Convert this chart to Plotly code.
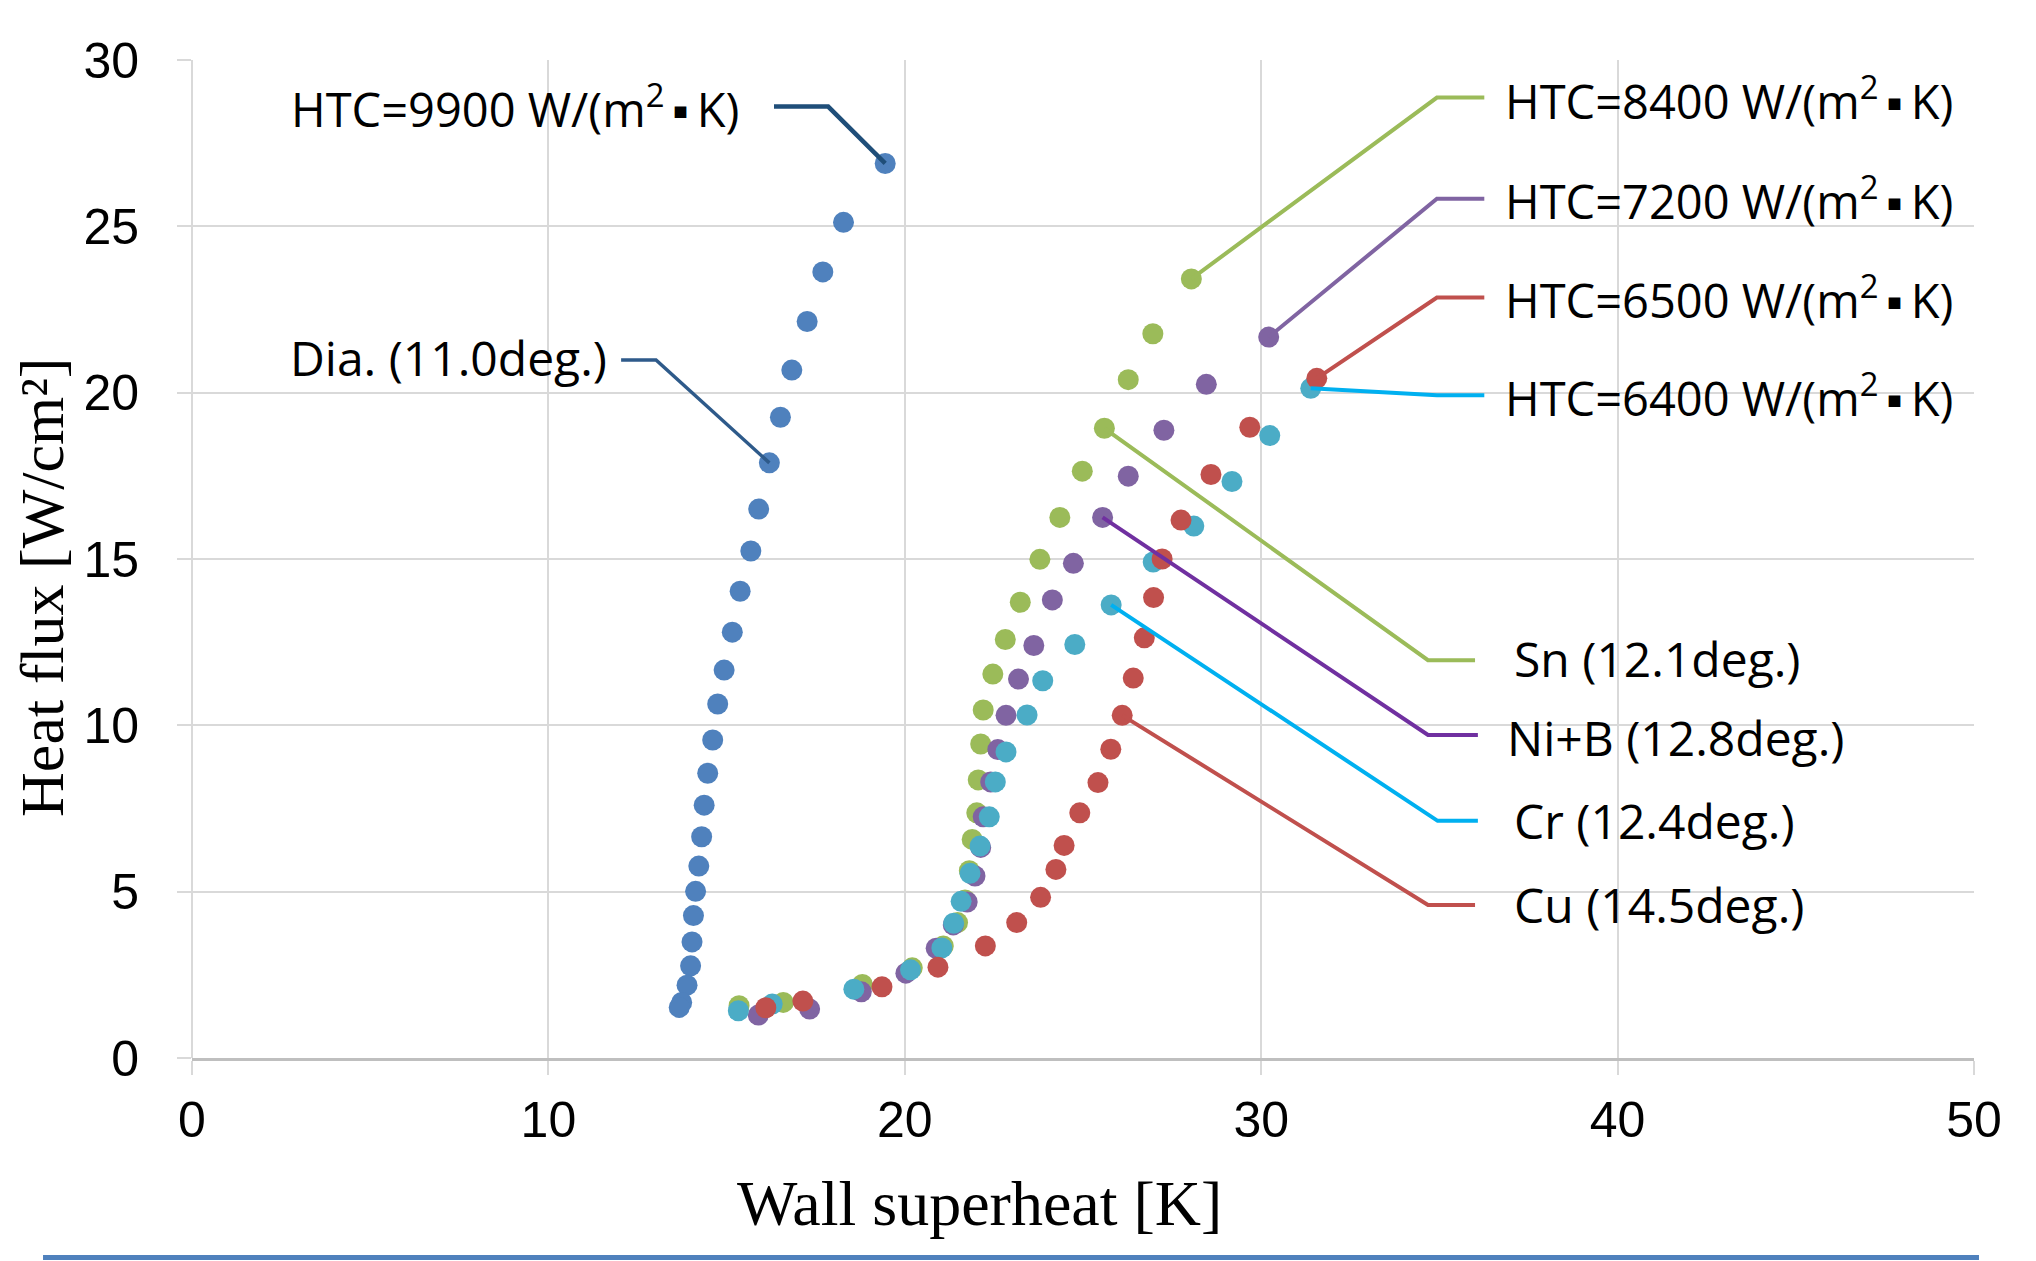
import plotly.graph_objects as go

# ---------------- data ----------------
dia_x = [19.45, 18.28, 17.70, 17.26, 16.83, 16.51, 16.20, 15.90, 15.68, 15.38, 15.16, 14.93, 14.75,
         14.61, 14.47, 14.37, 14.30, 14.22, 14.13, 14.07, 14.03, 13.99, 13.89, 13.74, 13.67]
dia_y = [26.89, 25.12, 23.63, 22.14, 20.68, 19.26, 17.89, 16.50, 15.24, 14.03, 12.80, 11.66, 10.64,
         9.56, 8.56, 7.60, 6.65, 5.77, 5.01, 4.28, 3.49, 2.77, 2.19, 1.67, 1.52]

sn_x = [15.35, 16.59, 18.81, 20.21, 21.08, 21.48, 21.69, 21.81, 21.89, 22.02, 22.06, 22.13, 22.20,
        22.47, 22.82, 23.24, 23.79, 24.35, 24.98, 25.60, 26.27, 26.96, 28.04]
sn_y = [1.57, 1.67, 2.21, 2.71, 3.37, 4.07, 4.75, 5.63, 6.57, 7.37, 8.36, 9.44, 10.46,
        11.54, 12.58, 13.70, 14.99, 16.25, 17.64, 18.93, 20.39, 21.77, 23.42]

nib_x = [15.89, 17.33, 18.78, 20.03, 20.88, 21.36, 21.75, 21.97, 22.13, 22.20, 22.41, 22.61, 22.84,
         23.19, 23.62, 24.14, 24.73, 25.55, 26.27, 27.27, 28.46, 30.21]
nib_y = [1.29, 1.47, 1.99, 2.55, 3.30, 4.00, 4.69, 5.47, 6.33, 7.25, 8.30, 9.27, 10.30,
         11.39, 12.40, 13.77, 14.87, 16.25, 17.49, 18.87, 20.25, 21.67]

cr_x = [15.33, 16.28, 18.57, 20.16, 21.04, 21.37, 21.58, 21.83, 22.11, 22.37, 22.54, 22.84, 23.43,
        23.87, 24.77, 25.79, 26.97, 28.11, 29.18, 30.24, 31.39]
cr_y = [1.42, 1.62, 2.07, 2.65, 3.31, 4.05, 4.71, 5.55, 6.37, 7.25, 8.30, 9.20, 10.31,
        11.34, 12.43, 13.62, 14.91, 15.99, 17.33, 18.71, 20.13]

cu_x = [16.10, 17.14, 19.36, 20.93, 22.26, 23.14, 23.81, 24.24, 24.47, 24.91, 25.42, 25.78, 26.10,
        26.41, 26.72, 26.98, 27.22, 27.75, 28.59, 29.68, 31.56]
cu_y = [1.51, 1.71, 2.14, 2.73, 3.37, 4.07, 4.83, 5.67, 6.39, 7.37, 8.28, 9.28, 10.30,
        11.42, 12.63, 13.84, 15.00, 16.17, 17.54, 18.96, 20.43]

x_ticks = [0, 10, 20, 30, 40, 50]
y_ticks = [0, 5, 10, 15, 20, 25, 30]

x_title = "Wall superheat [K]"
y_title = "Heat flux [W/cm\u00b2]"

# ---------------- figure ----------------
fig = go.Figure()

series = [
    ("Dia.", dia_x, dia_y, "#4F81BD"),
    ("Sn", sn_x, sn_y, "#9BBB59"),
    ("Ni+B", nib_x, nib_y, "#8064A2"),
    ("Cr", cr_x, cr_y, "#4BACC6"),
    ("Cu", cu_x, cu_y, "#C0504D"),
]
for name, xs, ys, col in series:
    fig.add_trace(go.Scatter(x=xs, y=ys, mode="markers", name=name,
                             marker=dict(size=21, color=col, line=dict(width=0)),
                             showlegend=False))

LABEL_FONT = dict(family="Open Sans", size=48, color="#000000")
HTC_FONT = dict(family="Open Sans", size=47, color="#000000")
HTC = "W/(m<sup>2</sup>\u2009\u25aa\u2009K)"

def leader(px, py, ex, ey, endx, col, width=4):
    fig.add_shape(type="path", xref="x", yref="y",
                  path=f"M {px},{py} L {ex},{ey} L {endx},{ey}",
                  line=dict(color=col, width=width), layer="above")

# right-side HTC labels (touch last point of each series)
leader(sn_x[-1], sn_y[-1], 34.93, 28.87, 36.26, "#9BBB59")
leader(nib_x[-1], nib_y[-1], 34.93, 25.83, 36.26, "#8064A2")
leader(cu_x[-1], cu_y[-1], 34.93, 22.86, 36.26, "#C0504D")
leader(cr_x[-1], cr_y[-1], 34.93, 19.92, 36.26, "#00B0F0")
# material labels
leader(sn_x[19], sn_y[19], 34.68, 11.96, 36.0, "#9BBB59")
leader(nib_x[17], nib_y[17], 34.68, 9.71, 36.08, "#7030A0")
leader(cr_x[15], cr_y[15], 34.95, 7.13, 36.08, "#00B0F0")
leader(cu_x[12], cu_y[12], 34.68, 4.60, 36.0, "#C0504D")
# left labels
leader(dia_x[0], dia_y[0], 17.85, 28.6, 16.33, "#1F4E79", 4.5)
leader(dia_x[6], dia_y[6], 13.02, 20.98, 12.04, "#2E5A8A", 3.5)

def label(x, y, text, anchor="left", font=LABEL_FONT):
    fig.add_annotation(x=x, y=y, xref="x", yref="y", text=text, showarrow=False,
                       xanchor=anchor, yanchor="middle", font=font)

label(36.78, 28.85, "HTC=8400 " + HTC, font=HTC_FONT)
label(36.78, 25.83, "HTC=7200 " + HTC, font=HTC_FONT)
label(36.78, 22.86, "HTC=6500 " + HTC, font=HTC_FONT)
label(36.78, 19.90, "HTC=6400 " + HTC, font=HTC_FONT)
label(37.05, 12.02, "Sn (12.1deg.)")
label(36.85, 9.63, "Ni+B (12.8deg.)")
label(37.05, 7.13, "Cr (12.4deg.)")
label(37.05, 4.60, "Cu (14.5deg.)")
label(15.40, 28.60, "HTC=9900 " + HTC, anchor="right", font=HTC_FONT)
label(11.70, 21.05, "Dia. (11.0deg.)", anchor="right")

# axis titles as annotations
fig.add_annotation(x=0.442, y=-0.146, xref="paper", yref="paper", text=x_title,
                   showarrow=False, xanchor="center", yanchor="middle",
                   font=dict(family="Liberation Serif", size=64, color="#000000"))
fig.add_annotation(x=-0.0842, y=0.472, xref="paper", yref="paper", text=y_title,
                   showarrow=False, xanchor="center", yanchor="middle", textangle=-90,
                   font=dict(family="Liberation Serif", size=62, color="#000000"))

# bottom decorative blue rule
fig.add_shape(type="line", xref="paper", yref="paper", x0=-0.0836, x1=1.0028,
              y0=-0.200, y1=-0.200, line=dict(color="#4F81BD", width=5))

GRID = "#D9D9D9"
fig.update_xaxes(range=[0, 50], tickvals=x_ticks, ticktext=[str(v) for v in x_ticks],
                 showgrid=True, gridcolor=GRID, gridwidth=2,
                 zeroline=True, zerolinecolor=GRID, zerolinewidth=2,
                 showline=True, linecolor="#BFBFBF", linewidth=3, mirror=False,
                 ticks="outside", ticklen=14, tickcolor=GRID, tickwidth=2,
                 ticklabelstandoff=2,
                 tickfont=dict(family="Liberation Sans", size=50, color="#000000"))
fig.update_yaxes(range=[0, 30], tickvals=y_ticks, ticktext=[str(v) for v in y_ticks],
                 showgrid=True, gridcolor=GRID, gridwidth=2,
                 zeroline=False, showline=False,
                 ticks="outside", ticklen=14, tickcolor=GRID, tickwidth=2,
                 ticklabelstandoff=28,
                 tickfont=dict(family="Liberation Sans", size=50, color="#000000"))

# page body has an 8px default margin, so the figure is sized/offset to compensate
fig.update_layout(width=2028, height=1253,
                  margin=dict(l=184, r=62, t=52, b=203, pad=0),
                  plot_bgcolor="#FFFFFF", paper_bgcolor="#FFFFFF",
                  showlegend=False)

fig.write_html("out.html")
